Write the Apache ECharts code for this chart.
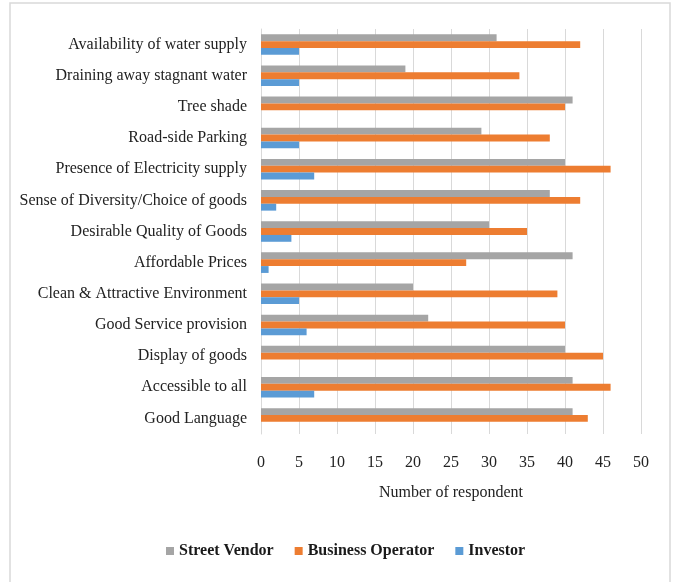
<!DOCTYPE html>
<html>
<head>
<meta charset="utf-8">
<script src="https://cdn.jsdelivr.net/npm/echarts@6/dist/echarts.min.js"></script>
<style>html,body{margin:0;padding:0;background:#fff}#c{width:675px;height:582px}</style>
</head>
<body>
<div id="c"></div>
<script>
const categories = ["Good Language","Accessible to all","Display of goods","Good Service provision","Clean & Attractive Environment","Affordable Prices","Desirable Quality of Goods","Sense of Diversity/Choice of goods","Presence of Electricity supply","Road-side Parking","Tree shade","Draining away stagnant water","Availability of water supply"];
const streetVendor = [41,41,40,22,20,41,30,38,40,29,41,19,31];
const businessOperator = [43,46,45,40,39,27,35,42,46,38,40,34,42];
const investor = [0,7,0,6,5,1,4,2,7,5,0,5,5];
const xTicks = {min:0,max:50,interval:5};

const chart = echarts.init(document.getElementById('c'));
const font = '"Liberation Serif", "Times New Roman", serif';
chart.setOption({
  animation:false,
  graphic:[{type:'rect',shape:{x:10,y:3,width:660,height:620},style:{fill:'none',stroke:'#d9d9d9',lineWidth:1.5},silent:true}],
  legend:{
    data:['Street Vendor','Business Operator','Investor'],
    top:543, left:166, padding:0, itemWidth:8, itemHeight:8, itemGap:21, icon:'rect',
    textStyle:{fontFamily:font,fontWeight:'bold',fontSize:16,color:'#1a1a1a'}
  },
  grid:{left:261,right:34,top:29,bottom:148},
  xAxis:{type:'value',min:xTicks.min,max:xTicks.max,interval:xTicks.interval,
    name:'Number of respondent',nameLocation:'middle',nameGap:51,
    nameTextStyle:{fontFamily:font,fontSize:16,color:'#222'},
    axisLine:{show:false},axisTick:{show:false},
    axisLabel:{fontFamily:font,fontSize:16,color:'#222',margin:21},
    splitLine:{lineStyle:{color:'#d9d9d9',width:1}}},
  yAxis:{type:'category',data:categories,
    axisLine:{show:true,lineStyle:{color:'#d9d9d9'}},axisTick:{show:false},
    axisLabel:{fontFamily:font,fontSize:16,color:'#222',margin:14}},
  series:[
    {name:'Street Vendor',type:'bar',data:streetVendor,itemStyle:{color:'#A5A5A5'},barGap:'0%',barCategoryGap:'34%'},
    {name:'Business Operator',type:'bar',data:businessOperator,itemStyle:{color:'#ED7D31'},barGap:'0%',barCategoryGap:'34%'},
    {name:'Investor',type:'bar',data:investor,itemStyle:{color:'#5B9BD5'},barGap:'0%',barCategoryGap:'34%'}
  ]
});
</script>
</body>
</html>
